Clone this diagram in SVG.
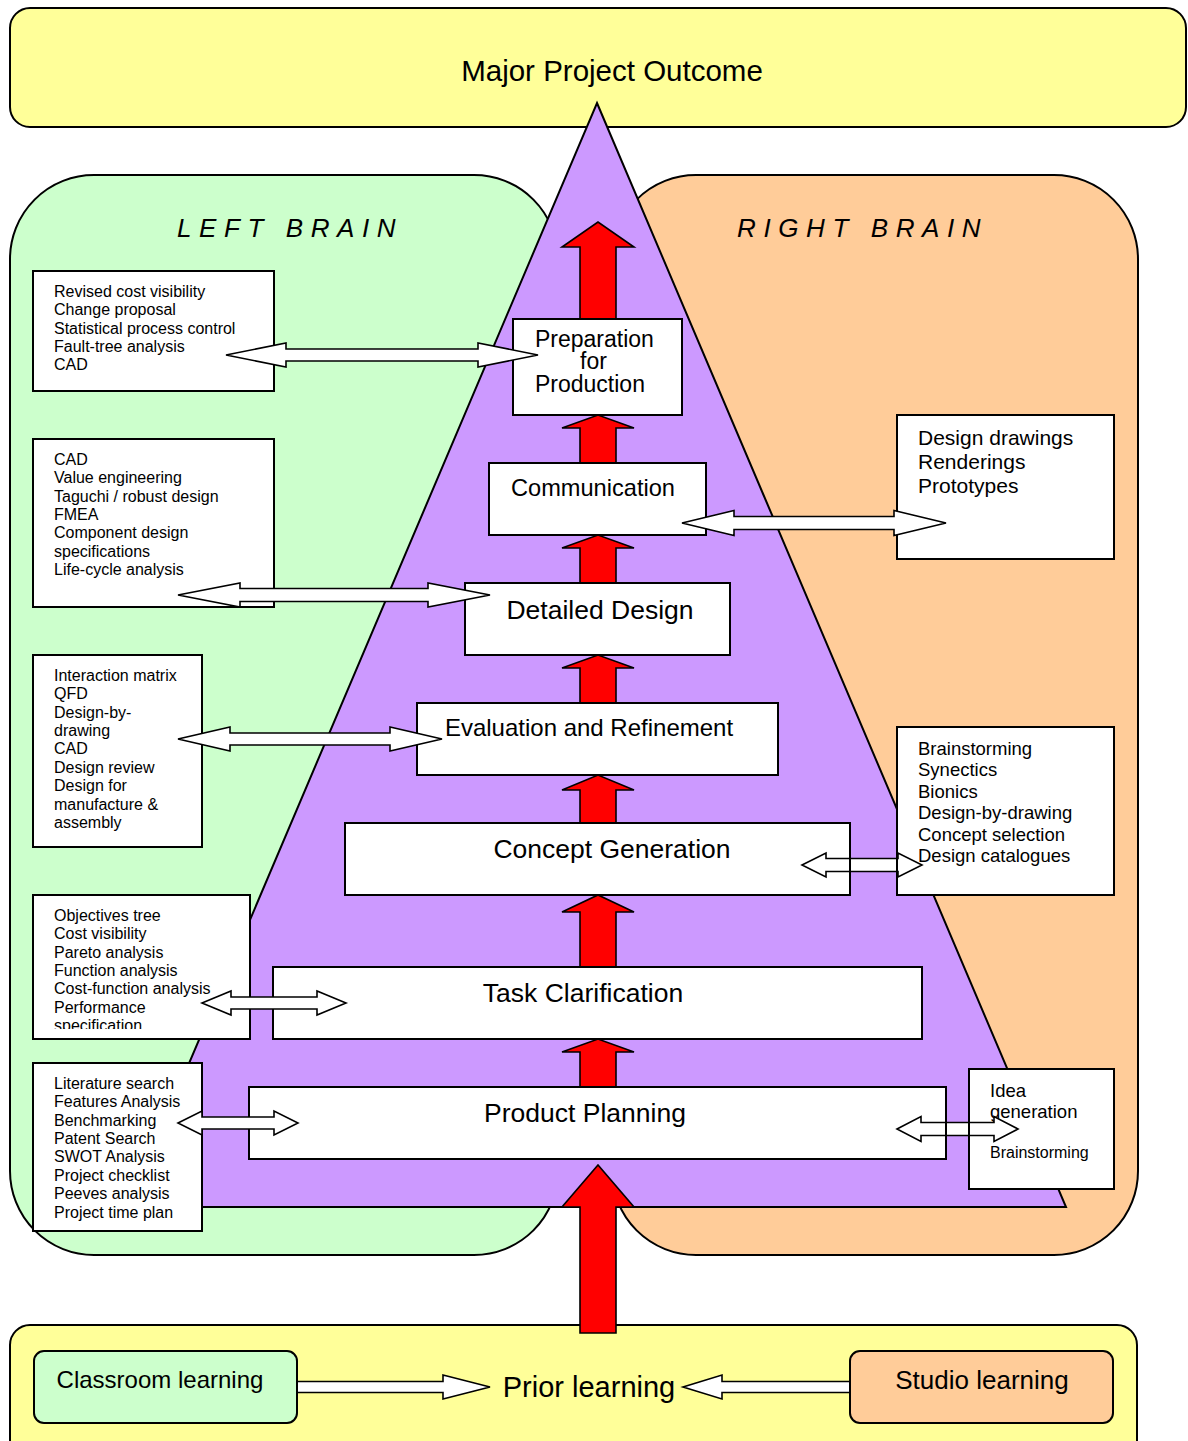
<svg xmlns="http://www.w3.org/2000/svg" width="1188" height="1441" viewBox="0 0 1188 1441">
  <style>
    text { font-family: "Liberation Sans", Arial, sans-serif; fill: #000; }
    .panel { stroke: #000; stroke-width: 2; }
    .box { fill: #fff; stroke: #000; stroke-width: 2; }
    .edge { fill: none; stroke: #000; stroke-width: 2; }
    .up { fill: #ff0000; stroke: #000; stroke-width: 1.6; stroke-linejoin: miter; }
    .dbl { fill: #fff; stroke: #000; stroke-width: 1.6; stroke-linejoin: miter; }
    .stage { font-size: 26.5px; text-anchor: middle; }
    .stage.small { font-size: 23.6px; }
    .stage.mid { font-size: 24px; }
    .list { font-size: 16px; }
    .brain { font-size: 26px; font-style: italic; letter-spacing: 7.6px; }
  </style>
  <defs>
    <clipPath id="clip-task-tools">
      <rect x="34" y="896" width="215" height="133"/>
    </clipPath>
  </defs>

  <!-- background panels -->
  <g id="outcome">
    <rect class="panel" x="10" y="8" width="1176" height="119" rx="20" fill="#ffff99"/>
    <text x="612" y="81" font-size="29.5" text-anchor="middle">Major Project Outcome</text>
  </g>
  <g id="prior-learning-panel">
    <rect class="panel" x="10" y="1325" width="1127" height="135" rx="20" fill="#ffff99"/>
  </g>
  <g id="left-brain">
    <rect class="panel" x="10" y="175" width="548" height="1080" rx="84" fill="#ccffcc"/>
  </g>
  <g id="right-brain">
    <rect class="panel" x="612" y="175" width="526" height="1080" rx="84" fill="#ffcc99"/>
  </g>
  <g id="pyramid">
    <polygon class="panel" points="597,103 1066,1207 128,1207" fill="#cc99ff"/>
  </g>
  <text class="brain" x="177" y="237">LEFT BRAIN</text>
  <text class="brain" x="737" y="237">RIGHT BRAIN</text>

  <!-- red progress arrows between stages -->
  <g id="progress-arrows">
    <polygon class="up" points="580,319 580,247 562,247 598,222 634,247 616,247 616,319"/>
    <polygon class="up" points="580,463 580,428 562,428 598,415 634,428 616,428 616,463"/>
    <polygon class="up" points="580,583 580,548 562,548 598,535 634,548 616,548 616,583"/>
    <polygon class="up" points="580,703 580,668 562,668 598,655 634,668 616,668 616,703"/>
    <polygon class="up" points="580,823 580,790 562,790 598,775 634,790 616,790 616,823"/>
    <polygon class="up" points="580,967 580,912 562,912 598,895 634,912 616,912 616,967"/>
    <polygon class="up" points="580,1087 580,1052 562,1052 598,1039 634,1052 616,1052 616,1087"/>
    <polygon class="up" points="580,1333 580,1207 562,1207 598,1165 634,1207 616,1207 616,1333"/>
  </g>

  <!-- design stages -->
  <g id="stage-preparation">
    <rect class="box" x="513" y="319" width="169" height="96"/>
    <text x="535" y="347" font-size="23">Preparation</text>
    <text x="580" y="369" font-size="23">for</text>
    <text x="535" y="392" font-size="23">Production</text>
  </g>
  <g id="stage-communication">
    <rect class="box" x="489" y="463" width="217" height="72"/>
    <text class="stage small" x="593" y="496">Communication</text>
  </g>
  <g id="stage-detailed">
    <rect class="box" x="465" y="583" width="265" height="72"/>
    <text class="stage" x="600" y="619">Detailed Design</text>
  </g>
  <g id="stage-evaluation">
    <rect class="box" x="417" y="703" width="361" height="72"/>
    <text class="stage mid" x="589" y="736">Evaluation and Refinement</text>
  </g>
  <g id="stage-concept">
    <rect class="box" x="345" y="823" width="505" height="72"/>
    <text class="stage" x="612" y="858">Concept Generation</text>
  </g>
  <g id="stage-task">
    <rect class="box" x="273" y="967" width="649" height="72"/>
    <text class="stage" x="583" y="1002">Task Clarification</text>
  </g>
  <g id="stage-planning">
    <rect class="box" x="249" y="1087" width="697" height="72"/>
    <text class="stage" x="585" y="1122">Product Planning</text>
  </g>

  <!-- left brain tool lists -->
  <g id="tools-preparation">
    <rect class="box" x="33" y="271" width="241" height="120"/>
    <text class="list" x="54" y="297">Revised cost visibility</text>
    <text class="list" x="54" y="315">Change proposal</text>
    <text class="list" x="54" y="334">Statistical process control</text>
    <text class="list" x="54" y="352">Fault-tree analysis</text>
    <text class="list" x="54" y="370">CAD</text>
  </g>
  <g id="tools-detailed">
    <rect class="box" x="33" y="439" width="241" height="168"/>
    <text class="list" x="54" y="465">CAD</text>
    <text class="list" x="54" y="483">Value engineering</text>
    <text class="list" x="54" y="502">Taguchi / robust design</text>
    <text class="list" x="54" y="520">FMEA</text>
    <text class="list" x="54" y="538">Component design</text>
    <text class="list" x="54" y="557">specifications</text>
    <text class="list" x="54" y="575">Life-cycle analysis</text>
  </g>
  <g id="tools-evaluation">
    <rect class="box" x="33" y="655" width="169" height="192"/>
    <text class="list" x="54" y="681">Interaction matrix</text>
    <text class="list" x="54" y="699">QFD</text>
    <text class="list" x="54" y="718">Design-by-</text>
    <text class="list" x="54" y="736">drawing</text>
    <text class="list" x="54" y="754">CAD</text>
    <text class="list" x="54" y="773">Design review</text>
    <text class="list" x="54" y="791">Design for</text>
    <text class="list" x="54" y="810">manufacture &amp;</text>
    <text class="list" x="54" y="828">assembly</text>
  </g>
  <g id="tools-task">
    <rect class="box" x="33" y="895" width="217" height="144"/>
    <g clip-path="url(#clip-task-tools)">
      <text class="list" x="54" y="921">Objectives tree</text>
      <text class="list" x="54" y="939">Cost visibility</text>
      <text class="list" x="54" y="958">Pareto analysis</text>
      <text class="list" x="54" y="976">Function analysis</text>
      <text class="list" x="54" y="994">Cost-function analysis</text>
      <text class="list" x="54" y="1013">Performance</text>
      <text class="list" x="54" y="1031">specification</text>
    </g>
  </g>
  <g id="tools-planning">
    <rect class="box" x="33" y="1063" width="169" height="168"/>
    <text class="list" x="54" y="1089">Literature search</text>
    <text class="list" x="54" y="1107">Features Analysis</text>
    <text class="list" x="54" y="1126">Benchmarking</text>
    <text class="list" x="54" y="1144">Patent Search</text>
    <text class="list" x="54" y="1162">SWOT Analysis</text>
    <text class="list" x="54" y="1181">Project checklist</text>
    <text class="list" x="54" y="1199">Peeves analysis</text>
    <text class="list" x="54" y="1218">Project time plan</text>
  </g>

  <!-- right brain tool lists -->
  <g id="tools-communication">
    <rect class="box" x="897" y="415" width="217" height="144"/>
    <text x="918" y="445" font-size="21">Design drawings</text>
    <text x="918" y="469" font-size="21">Renderings</text>
    <text x="918" y="493" font-size="21">Prototypes</text>
  </g>
  <g id="tools-concept">
    <rect class="box" x="897" y="727" width="217" height="168"/>
    <text x="918" y="755" font-size="18.5">Brainstorming</text>
    <text x="918" y="776" font-size="18.5">Synectics</text>
    <text x="918" y="798" font-size="18.5">Bionics</text>
    <text x="918" y="819" font-size="18.5">Design-by-drawing</text>
    <text x="918" y="841" font-size="18.5">Concept selection</text>
    <text x="918" y="862" font-size="18.5">Design catalogues</text>
  </g>
  <g id="tools-planning-right">
    <rect class="box" x="969" y="1069" width="145" height="120"/>
    <text x="990" y="1097" font-size="18.5">Idea</text>
    <text x="990" y="1118" font-size="18.5">generation</text>
    <text x="990" y="1158" font-size="16">Brainstorming</text>
  </g>

  <!-- two-way links between stages and tools -->
  <g id="connectors">
    <polygon class="dbl" points="226,355 286,343 286,349 478,349 478,343 538,355 478,367 478,361 286,361 286,367"/>
    <polygon class="dbl" points="682,523 734,510.5 734,516.5 894,516.5 894,510.5 946,523 894,535.5 894,529.5 734,529.5 734,535.5"/>
    <polygon class="dbl" points="178,595 240,583 240,588.5 428,588.5 428,583 490,595 428,607 428,601.5 240,601.5 240,607"/>
    <polygon class="dbl" points="178,739 230,727 230,733 390,733 390,727 442,739 390,751 390,745 230,745 230,751"/>
    <polygon class="dbl" points="202,1003 231,991 231,997 317,997 317,991 346,1003 317,1015 317,1009 231,1009 231,1015"/>
    <polygon class="dbl" points="178,1123 202,1111 202,1117 274,1117 274,1111 298,1123 274,1135 274,1129 202,1129 202,1135"/>
    <polygon class="dbl" points="802,865 826,853 826,858.5 898,858.5 898,853 922,865 898,877 898,871.5 826,871.5 826,877"/>
    <polygon class="dbl" points="897,1129 921,1116.5 921,1122.5 994,1122.5 994,1116.5 1018,1129 994,1141.5 994,1135.5 921,1135.5 921,1141.5"/>
    <!-- box edges that show through the right-hand links -->
    <line class="edge" x1="850" y1="823" x2="850" y2="895"/>
    <line class="edge" x1="897" y1="727" x2="897" y2="895"/>
    <line class="edge" x1="946" y1="1087" x2="946" y2="1159"/>
    <line class="edge" x1="969" y1="1069" x2="969" y2="1189"/>
    <!-- learning feeds -->
    <polygon class="dbl" points="297,1381.5 443,1381.5 443,1375 490,1387 443,1399 443,1392.5 297,1392.5"/>
    <polygon class="dbl" points="850,1381.5 722,1381.5 722,1375 683,1387 722,1399 722,1392.5 850,1392.5"/>
  </g>

  <!-- prior learning sources -->
  <g id="classroom-learning">
    <rect class="panel" x="34" y="1351" width="263" height="72" rx="10" fill="#ccffcc"/>
    <text x="160" y="1388" font-size="24" text-anchor="middle">Classroom learning</text>
  </g>
  <g id="prior-learning">
    <text x="589" y="1397" font-size="29" text-anchor="middle">Prior learning</text>
  </g>
  <g id="studio-learning">
    <rect class="panel" x="850" y="1351" width="263" height="72" rx="10" fill="#ffcc99"/>
    <text x="982" y="1389" font-size="26" text-anchor="middle">Studio learning</text>
  </g>
</svg>
